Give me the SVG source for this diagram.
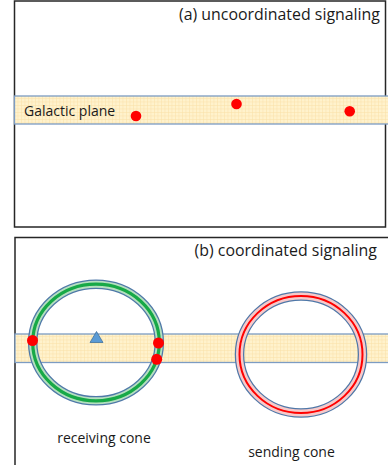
<svg xmlns="http://www.w3.org/2000/svg" width="388" height="465" viewBox="0 0 388 465">
<defs>
<pattern id="grid" width="3.5" height="3.5" patternUnits="userSpaceOnUse">
<rect width="3.5" height="3.5" fill="#fff2cc"/>
<path d="M0 0.25H3.5M0.25 0V3.5" stroke="#f8dfa6" stroke-width="0.6"/>
</pattern>
<style>
.frame{fill:none;stroke:#262626;stroke-width:1.5}
.band{fill:url(#grid);stroke:#7c9cc3;stroke-width:1.3}
.title{font-family:"Open Sans","Liberation Sans",sans-serif;font-size:15.9px;fill:#1a1a1a}
.lbl{font-family:"Open Sans","Liberation Sans",sans-serif;font-size:14px;fill:#1a1a1a}
.dot{fill:#ff0000}
.ringOut{fill:none;stroke:#4f78a8;stroke-width:9.5}
</style>
</defs>
<g id="panel-a">
<rect class="frame" x="14.5" y="1" width="371" height="226"/>
<text class="title" x="380" y="20" text-anchor="end">(a) uncoordinated signaling</text>
</g>
<g id="galactic-plane-a">
<rect class="band" x="14.5" y="96" width="375" height="28"/>
<text class="lbl" x="24" y="116">Galactic plane</text>
</g>
<g id="stars-a">
<circle class="dot" cx="136" cy="116" r="5.3"/>
<circle class="dot" cx="236.5" cy="104" r="5.3"/>
<circle class="dot" cx="349.7" cy="111.3" r="5.3"/>
</g>
<g id="panel-b">
<path class="frame" d="M15 466V237.5H390"/>
<text class="title" x="377" y="255.5" text-anchor="end">(b) coordinated signaling</text>
</g>
<g id="galactic-plane-b">
<rect class="band" x="15" y="334" width="375" height="28.5"/>
</g>
<g id="receiving-cone">
<ellipse class="ringOut" cx="96" cy="342.5" rx="63.3" ry="58.3"/>
<ellipse cx="96" cy="342.5" rx="63.3" ry="58.3" fill="none" stroke="#b5dfc0" stroke-width="7"/>
<ellipse cx="96" cy="342.5" rx="63.3" ry="58.3" fill="none" stroke="#17a947" stroke-width="3.2"/>
<text class="lbl" x="104" y="443" text-anchor="middle">receiving cone</text>
</g>
<g id="observer">
<polygon points="96.5,331.5 90,342.5 103,342.5" fill="#5b9bd5" stroke="#41719c" stroke-width="0.8"/>
</g>
<g id="stars-b">
<circle class="dot" cx="32.5" cy="340.5" r="5.5"/>
<circle class="dot" cx="158.5" cy="343" r="5.5"/>
<circle class="dot" cx="156.7" cy="359.3" r="5.5"/>
</g>
<g id="sending-cone">
<ellipse class="ringOut" cx="301" cy="354.5" rx="61.5" ry="58.5"/>
<ellipse cx="301" cy="354.5" rx="61.5" ry="58.5" fill="none" stroke="#f6caca" stroke-width="7"/>
<ellipse cx="301" cy="354.5" rx="61.5" ry="58.5" fill="none" stroke="#ff0000" stroke-width="2"/>
<text class="lbl" x="291.5" y="456.5" text-anchor="middle">sending cone</text>
</g>
</svg>
